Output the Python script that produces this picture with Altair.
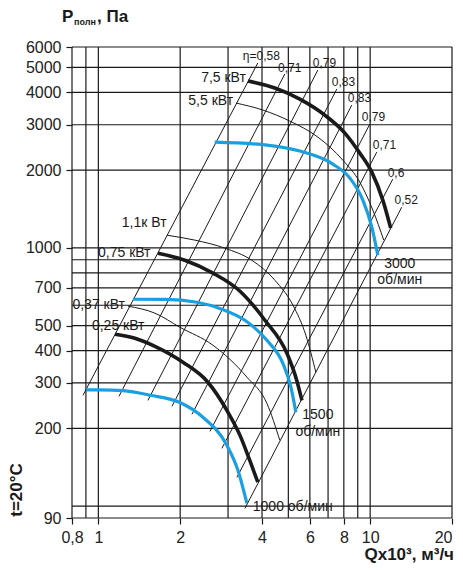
import altair as alt
import pandas as pd

FONT = "Liberation Sans"
BLUE = "#1aa0e0"
INK = "#1a1a1a"

# ---- axes and grid ----
X_TICKS = [0.8, 1, 2, 4, 6, 8, 10, 20]
Y_TICKS = [90, 200, 300, 400, 500, 700, 1000, 2000, 3000, 4000, 5000, 6000]
GRID_Q = [0.8, 0.9, 1, 2, 3, 4, 5, 6, 7, 8, 9, 10, 20]
GRID_P = [90, 100, 200, 300, 400, 500, 600, 700, 800, 900, 1000, 2000, 3000, 4000, 5000, 6000]

# ---- efficiency lines (P ~ Q^2), top and bottom ends ----
ETA_TEXT = ["η=0,58", "0,71", "0,79", "0,83", "0,83", "0,79", "0,71", "0,6", "0,52"]
ETA_Q_TOP = [3.86, 4.85, 6.42, 7.54, 8.56, 9.97, 10.58, 12.11, 13.07]
ETA_P_TOP = [5203, 4714, 4886, 4125, 3575, 3017, 2351, 1847, 1439]
ETA_Q_BOT = [0.878, 1.191, 1.522, 1.866, 2.21, 2.574, 2.848, 3.234, 3.46]
ETA_P_BOT = [268.7, 266.3, 256.8, 243.7, 226.9, 194.9, 167.5, 129.3, 98.0]
ETA_LABEL_Q = [3.40, 4.58, 6.15, 7.22, 8.27, 9.32, 10.23, 11.6, 12.3]
ETA_LABEL_P = [5537, 4975, 5203, 4391, 3806, 3212, 2502, 1949, 1532]

# ---- fan curves ----
THICK = {
    "3000": ([3.55, 4.46, 5.51, 6.81, 8.07, 9.16, 10.14, 11.13, 11.9],
             [4428, 4162, 3772, 3270, 2785, 2329, 1966, 1532, 1193]),
    "1500": ([1.657, 2.08, 2.64, 3.32, 4.10, 4.94, 5.37, 5.61],
             [954, 896, 799, 680, 525, 391, 307, 257]),
    "1000": ([1.151, 1.363, 1.615, 2.047, 2.53, 2.971, 3.32, 3.61, 3.86],
             [463, 447, 416, 361, 302, 235, 188, 150, 124]),
}
BLUE_CURVES = {
    "3000": ([2.68, 4.17, 5.51, 7.29, 8.42, 9.4, 10.14, 10.67],
             [2569, 2502, 2372, 2112, 1864, 1532, 1203, 937]),
    "1500": ([1.34, 1.758, 2.305, 2.848, 3.46, 4.17, 4.77, 5.11, 5.33],
             [633, 632, 616, 579, 525, 439, 358, 289, 231]),
    "1000": ([0.901, 1.013, 1.232, 1.55, 1.996, 2.425, 2.971, 3.26, 3.52],
             [282, 282, 280, 269, 252, 221, 172, 138, 102.5]),
}
THIN = {
    "5.5": ([3.21, 4.03, 5.06, 6.42, 7.93, 9.16, 10.23, 11.22],
            [3640, 3419, 3100, 2687, 2189, 1798, 1401, 1072]),
    "1.1": ([1.789, 2.267, 2.92, 3.67, 4.46, 5.2, 5.8, 6.31],
            [1120, 1072, 998, 896, 750, 600, 459, 330]),
    "0.37": ([1.285, 1.615, 1.996, 2.64, 3.52, 4.17, 4.65],
             [595, 559, 493, 420, 316, 250, 180]),
}

# ---- labels ----
LEFT_TEXT = ["1,1к Вт", "0,75 кВт", "0,37 кВт", "0,25 кВт", "1000 об/мин"]
LEFT_Q = [1.22, 0.997, 0.803, 0.947, 3.70]
LEFT_P = [1247, 954, 600, 497, 98.9]
RIGHT_TEXT = ["7,5 кВт", "5,5 кВт"]
RIGHT_Q = [3.49, 3.13]
RIGHT_P = [4551, 3705]
CENTER_TEXT = ["3000", "об/мин", "1500", "об/мин"]
CENTER_Q = [12.85, 12.85, 6.42, 6.42]
CENTER_P = [865, 750, 225, 193]


def xenc():
    return alt.X("q:Q", scale=alt.Scale(type="log", domain=[0.8, 20], nice=False, zero=False),
                 axis=alt.Axis(values=X_TICKS, title=None, grid=False, domain=False,
                               labelAlign={"condition": {"test": "datum.value >= 20", "value": "right"},
                                           "value": "center"},
                               labelExpr="replace(toString(datum.value), '.', ',')"))


def yenc():
    return alt.Y("p:Q", scale=alt.Scale(type="log", domain=[90, 6000], nice=False, zero=False),
                 axis=alt.Axis(values=Y_TICKS, title=None, grid=False, domain=False, format="d"))


def curves_df(d):
    rows = []
    for key, (qs, ps) in d.items():
        for i, (q, p) in enumerate(zip(qs, ps)):
            rows.append({"id": key, "i": i, "q": q, "p": p})
    return pd.DataFrame(rows)


eta_rows = []
for k in range(len(ETA_TEXT)):
    eta_rows.append({"id": k, "i": 0, "q": ETA_Q_BOT[k], "p": ETA_P_BOT[k]})
    eta_rows.append({"id": k, "i": 1, "q": ETA_Q_TOP[k], "p": ETA_P_TOP[k]})
eta_df = pd.DataFrame(eta_rows)

vgrid = alt.Chart(pd.DataFrame({"q": GRID_Q})).mark_rule(color=INK, strokeWidth=1.2).encode(x=xenc())
hgrid = alt.Chart(pd.DataFrame({"p": GRID_P})).mark_rule(color=INK, strokeWidth=1.2).encode(y=yenc())

eta_lines = alt.Chart(eta_df).mark_line(color=INK, strokeWidth=1).encode(
    x=xenc(), y=yenc(), detail="id:N", order="i:Q")

thin = alt.Chart(curves_df(THIN)).mark_line(color=INK, strokeWidth=1, interpolate="monotone").encode(
    x=xenc(), y=yenc(), detail="id:N", order="i:Q")
blue = alt.Chart(curves_df(BLUE_CURVES)).mark_line(color=BLUE, strokeWidth=3.2, interpolate="monotone").encode(
    x=xenc(), y=yenc(), detail="id:N", order="i:Q")
thick = alt.Chart(curves_df(THICK)).mark_line(color=INK, strokeWidth=3.6, interpolate="monotone").encode(
    x=xenc(), y=yenc(), detail="id:N", order="i:Q")

eta_text = alt.Chart(pd.DataFrame({"q": ETA_LABEL_Q, "p": ETA_LABEL_P, "t": ETA_TEXT})).mark_text(
    align="left", baseline="middle", font=FONT, fontSize=12, color=INK).encode(x=xenc(), y=yenc(), text="t:N")
left_text = alt.Chart(pd.DataFrame({"q": LEFT_Q, "p": LEFT_P, "t": LEFT_TEXT})).mark_text(
    align="left", baseline="middle", font=FONT, fontSize=14, color=INK).encode(x=xenc(), y=yenc(), text="t:N")
right_text = alt.Chart(pd.DataFrame({"q": RIGHT_Q, "p": RIGHT_P, "t": RIGHT_TEXT})).mark_text(
    align="right", baseline="middle", font=FONT, fontSize=14, color=INK).encode(x=xenc(), y=yenc(), text="t:N")
center_text = alt.Chart(pd.DataFrame({"q": CENTER_Q, "p": CENTER_P, "t": CENTER_TEXT})).mark_text(
    align="center", baseline="middle", font=FONT, fontSize=14, color=INK).encode(x=xenc(), y=yenc(), text="t:N")


def fixed_text(txt, x, y, size, align="left", baseline="alphabetic", angle=0):
    kw = dict(align=align, baseline=baseline, font=FONT, fontSize=size, fontWeight="bold", color=INK)
    if angle:
        kw["angle"] = angle
    return alt.Chart(pd.DataFrame({"t": [txt]})).mark_text(**kw).encode(
        x=alt.value(x), y=alt.value(y), text="t:N")


title_p = fixed_text("P", -10, -25, 17)
title_sub = fixed_text("полн", 2, -22, 9)
title_pa = fixed_text(", Па", 25, -25, 17)
x_title = fixed_text("Qx10³, м³/ч", 382, 508, 17, align="right", baseline="middle")
t_title = fixed_text("t=20°C", -55, 443, 17, align="center", baseline="middle", angle=270)

chart = alt.layer(
    vgrid, hgrid, eta_lines, thin, blue, thick,
    eta_text, left_text, right_text, center_text,
    title_p, title_sub, title_pa, x_title, t_title,
).properties(
    width=380, height=471,
    autosize=alt.AutoSizeParams(type="none"),
    padding={"left": 64, "top": 39, "right": 3, "bottom": 46},
).configure_view(strokeWidth=0).configure_axis(
    tickSize=6, tickColor=INK, tickWidth=1.2, labelFont=FONT, labelFontSize=16,
    labelColor="#222", labelPadding=5, labelFlush=False, labelOverlap=False,
).configure_axisX(labelPadding=5, labelFontSize=16)

chart.save("out.html", embed_options={"renderer": "svg", "actions": False})
